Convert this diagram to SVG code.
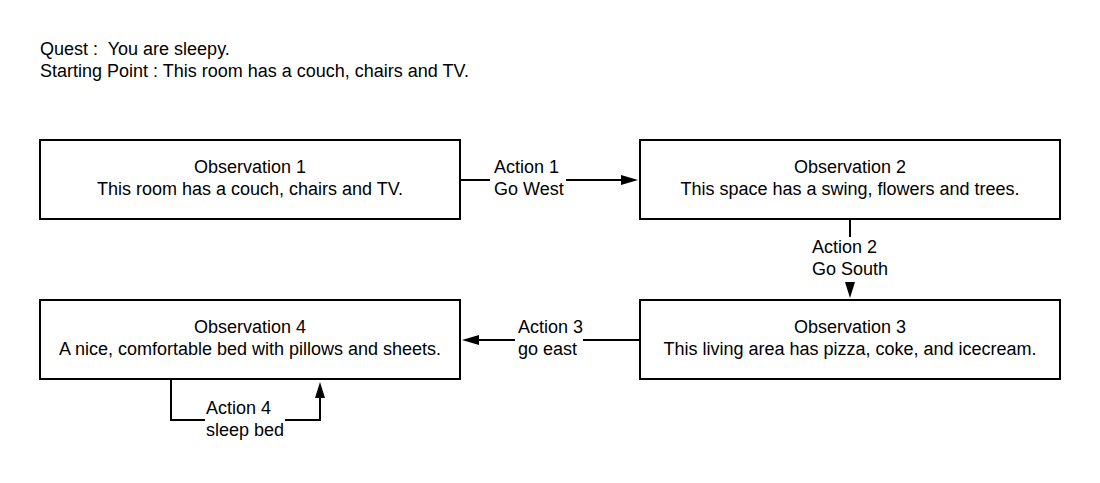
<svg xmlns="http://www.w3.org/2000/svg" width="1100" height="483" viewBox="0 0 1100 483">
<defs>
<style>
text{font-family:"Liberation Sans",Arial,sans-serif;font-size:18px;fill:#000;white-space:pre}
.c{text-anchor:middle}
.box{fill:#fff;stroke:#000;stroke-width:2}
.ln{fill:none;stroke:#000;stroke-width:2}
.ah{fill:#000;stroke:none}
</style>
</defs>
<rect width="1100" height="483" fill="#fff"/>
<g id="header">
<text x="40" y="55" xml:space="preserve">Quest :  You are sleepy.</text>
<text x="40" y="77">Starting Point : This room has a couch, chairs and TV.</text>
</g>
<g id="connectors">
<path class="ln" d="M460 180H490M566 180H622"/>
<polygon class="ah" points="638,180 621,175 621,185"/>
<text x="494" y="173">Action 1</text>
<text x="494" y="195">Go West</text>
<path class="ln" d="M850 220V237"/>
<polygon class="ah" points="850,298 845,282 855,282"/>
<text x="812" y="253">Action 2</text>
<text x="812" y="275">Go South</text>
<path class="ln" d="M640 340H583M515 340H478"/>
<polygon class="ah" points="462,340 479,335 479,345"/>
<text x="518" y="333">Action 3</text>
<text x="518" y="355">go east</text>
<path class="ln" d="M171 380V420H205M285 420H320V397"/>
<polygon class="ah" points="320,382 315,398 325,398"/>
<text x="206" y="414">Action 4</text>
<text x="206" y="436">sleep bed</text>
</g>
<g id="obs1">
<rect class="box" x="40" y="140" width="420" height="79"/>
<text class="c" x="250" y="173">Observation 1</text>
<text class="c" x="250" y="195">This room has a couch, chairs and TV.</text>
</g>
<g id="obs2">
<rect class="box" x="640" y="140" width="420" height="79"/>
<text class="c" x="850" y="173">Observation 2</text>
<text class="c" x="850" y="195">This space has a swing, flowers and trees.</text>
</g>
<g id="obs3">
<rect class="box" x="640" y="300" width="420" height="79"/>
<text class="c" x="850" y="333">Observation 3</text>
<text class="c" x="850" y="355">This living area has pizza, coke, and icecream.</text>
</g>
<g id="obs4">
<rect class="box" x="40" y="300" width="420" height="79"/>
<text class="c" x="250" y="333">Observation 4</text>
<text class="c" x="250" y="355">A nice, comfortable bed with pillows and sheets.</text>
</g>
</svg>
